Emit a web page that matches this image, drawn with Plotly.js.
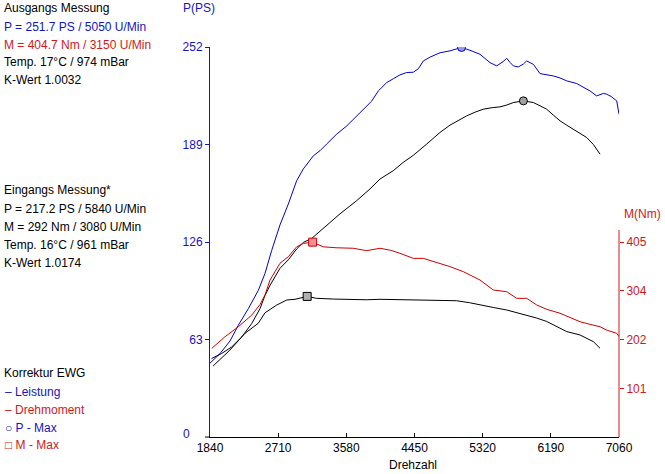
<!DOCTYPE html>
<html>
<head>
<meta charset="utf-8">
<script src="https://cdn.plot.ly/plotly-3.0.1.min.js"></script>
<style>
  html, body { margin: 0; padding: 0; background: #fff; }
  #chart { width: 665px; height: 474px; }
</style>
</head>
<body>
<div id="chart"></div>
<script>
// Ausgangs Messung, Leistung (blau)
var rpmP1 = [1840, 1968, 2095, 2201, 2329, 2456, 2542, 2627, 2733, 2840, 2946, 3031, 3159, 3244, 3329, 3457, 3585, 3691, 3797, 3903, 3988, 4095, 4180, 4265, 4350, 4435, 4500, 4563, 4650, 4776, 4903, 5050, 5158, 5286, 5414, 5499, 5580, 5627, 5670, 5712, 5775, 5840, 5882, 5967, 6052, 6137, 6222, 6307, 6393, 6520, 6605, 6690, 6775, 6860, 6903, 6960, 7031, 7060];
var valP1 = [47.7, 53.9, 62, 72.2, 82.9, 94.7, 105.7, 120.5, 137, 150.6, 165.6, 173.2, 181.7, 185, 189.3, 195.7, 201, 206.4, 211.5, 217, 223.6, 229, 231.5, 234, 235.5, 235.7, 238, 243, 245.5, 248.3, 249.5, 251.7, 249.9, 247.3, 241.9, 239.8, 242.5, 244.7, 242, 239.8, 239.1, 241, 243, 240.8, 234.8, 234, 233.3, 232, 230.1, 228.4, 226, 223.6, 220.4, 222, 221.5, 220, 217.2, 208.6];

// Eingangs Messung, Leistung (schwarz)
var rpmP2 = [1860, 1990, 2117, 2245, 2372, 2478, 2542, 2606, 2733, 2840, 2946, 3031, 3138, 3329, 3499, 3712, 3882, 4010, 4180, 4307, 4435, 4606, 4776, 4903, 5009, 5116, 5228, 5328, 5441, 5541, 5627, 5712, 5840, 5967, 6052, 6137, 6222, 6307, 6392, 6477, 6562, 6648, 6733, 6818];
var valP2 = [50.7, 54, 58.2, 64.6, 73.3, 82.9, 91.5, 98, 109, 114.5, 121.5, 125.7, 128.3, 136.6, 144.2, 152.7, 160.3, 166.7, 172.1, 177.5, 182, 189.3, 196.8, 201.5, 204.5, 207.5, 210, 211.8, 212.8, 213.3, 214.5, 216.1, 217.2, 216.1, 214, 211.8, 208, 204.3, 201.5, 198.9, 196, 193.5, 189, 182.8];

// Ausgangs Messung, Drehmoment (rot)
var rpmM1 = [1862, 2030, 2201, 2372, 2478, 2542, 2606, 2733, 2840, 2946, 3031, 3150, 3286, 3450, 3669, 3840, 4010, 4140, 4265, 4435, 4563, 4776, 4900, 5073, 5286, 5456, 5627, 5754, 5882, 6010, 6137, 6307, 6430, 6562, 6690, 6818, 6903, 7031, 7060];
var valM1 = [184, 208, 229, 253, 275, 295, 326, 360.8, 374.5, 395, 402, 404.7, 395, 393, 392, 387, 392, 388, 381.5, 371, 371, 360.8, 354, 343.4, 326, 305.3, 301.8, 288, 288, 274.2, 265.2, 257, 248, 239.5, 234, 229, 222, 215.4, 208.3];

// Eingangs Messung, Drehmoment (schwarz)
var rpmM2 = [1880, 2095, 2287, 2456, 2542, 2691, 2819, 2925, 3080, 3200, 3414, 3600, 3840, 4010, 4265, 4500, 4691, 4988, 5150, 5328, 5456, 5627, 5754, 5882, 6010, 6137, 6222, 6307, 6392, 6562, 6733, 6818];
var valM2 = [147.5, 180.7, 215.4, 236.2, 258, 274, 284.5, 286, 292, 288, 286.5, 285.5, 285, 286, 285, 285, 284.5, 283, 279, 274, 269, 263.8, 258.5, 253.4, 247, 240, 233, 226, 219, 211.9, 198, 184.2];

// Maxima
var pMaxRpm = [5050, 5840];
var pMaxVal = [251.7, 217.2];
var mMaxRpm = [3150, 3080];
var mMaxVal = [404.7, 292];

var xTicks = [1840, 2710, 3580, 4450, 5320, 6190, 7060];
var pTicks = [63, 126, 189, 252];
var mTicks = [101, 202, 304, 405];

var BLUE = '#1414c0';
var RED = '#d01818';
var FONT = 'Liberation Sans, Arial, sans-serif';

// Pixelposition -> paper-Koordinaten (Plotbereich 210..619 x 47..437)
function px(x) { return (x - 210) / 409; }
function py(y) { return (437 - y) / 390; }

var data = [
  {x: rpmP1, y: valP1, type: 'scatter', mode: 'lines', line: {color: '#0000cc', width: 1}, hoverinfo: 'skip'},
  {x: rpmP2, y: valP2, type: 'scatter', mode: 'lines', line: {color: '#000', width: 1}, hoverinfo: 'skip'},
  {x: rpmM1, y: valM1, yaxis: 'y2', type: 'scatter', mode: 'lines', line: {color: '#cc0000', width: 1}, hoverinfo: 'skip'},
  {x: rpmM2, y: valM2, yaxis: 'y2', type: 'scatter', mode: 'lines', line: {color: '#000', width: 1}, hoverinfo: 'skip'},
  {x: pMaxRpm, y: pMaxVal, type: 'scatter', mode: 'markers',
   marker: {symbol: 'circle', size: 8, color: ['#9a9ae0', '#a0a0a0'], line: {color: ['#0000cc', '#000'], width: 1}}},
  {x: mMaxRpm, y: mMaxVal, yaxis: 'y2', type: 'scatter', mode: 'markers',
   marker: {symbol: 'square', size: 8, color: ['#f09090', '#b0b0b0'], line: {color: ['#cc0000', '#000'], width: 1}}}
];

function label(x, y, text, color) {
  return {xref: 'paper', yref: 'paper', x: px(x), y: py(y), text: text, showarrow: false,
          xanchor: 'left', yanchor: 'middle', font: {family: FONT, size: 12, color: color || '#000'}};
}

var annotations = [
  label(2, 8, 'Ausgangs Messung'),
  label(2, 27, 'P = 251.7 PS / 5050 U/Min', BLUE),
  label(2, 45, 'M = 404.7 Nm / 3150 U/Min', RED),
  label(2, 62, 'Temp. 17°C / 974 mBar'),
  label(2, 80, 'K-Wert 1.0032'),
  label(2, 190, 'Eingangs Messung*'),
  label(2, 209, 'P = 217.2 PS / 5840 U/Min'),
  label(2, 227, 'M = 292 Nm / 3080 U/Min'),
  label(2, 245, 'Temp. 16°C / 961 mBar'),
  label(2, 263, 'K-Wert 1.0174'),
  label(2, 373, 'Korrektur EWG'),
  label(3, 392, '– Leistung', BLUE),
  label(3, 410, '– Drehmoment', RED),
  label(3, 428, '○ P - Max', BLUE),
  label(3, 445, '□ M - Max', RED),
  label(181, 8, 'P(PS)', BLUE),
  label(622, 214, 'M(Nm)', RED),
  label(181, 434, '0', BLUE),
  {xref: 'paper', yref: 'paper', x: px(413), y: py(465), text: 'Drehzahl', showarrow: false,
   xanchor: 'center', yanchor: 'middle', font: {family: FONT, size: 12, color: '#000'}}
];

var layout = {
  width: 665,
  height: 474,
  margin: {l: 210, r: 46, t: 47, b: 37, pad: 0},
  paper_bgcolor: '#fff',
  plot_bgcolor: '#fff',
  showlegend: false,
  font: {family: FONT, size: 12, color: '#000'},
  xaxis: {
    range: [1840, 7060], tickvals: xTicks, ticktext: xTicks.map(String),
    ticks: 'inside', ticklen: 4, tickcolor: '#000', showline: true, linecolor: '#000', linewidth: 1,
    showgrid: false, zeroline: false, tickfont: {family: FONT, size: 12, color: '#000'}
  },
  yaxis: {
    range: [0, 252], tickvals: pTicks, ticktext: pTicks.map(String),
    ticks: 'outside', ticklen: 4, tickcolor: BLUE, showline: true, linecolor: BLUE, linewidth: 1,
    showgrid: false, zeroline: false, tickfont: {family: FONT, size: 12, color: BLUE}
  },
  yaxis2: {
    overlaying: 'y', side: 'right', range: [0, 810], tickvals: mTicks, ticktext: mTicks.map(String),
    ticks: 'outside', ticklen: 4, tickcolor: RED, showline: false,
    showgrid: false, zeroline: false, tickfont: {family: FONT, size: 12, color: RED}
  },
  shapes: [
    {type: 'line', xref: 'paper', yref: 'y2', x0: 1, x1: 1, y0: 0, y1: 430, line: {color: RED, width: 1}},
    {type: 'line', xref: 'paper', yref: 'paper', x0: px(205), x1: 0, y0: 0, y1: 0, line: {color: '#000', width: 1}}
  ],
  annotations: annotations
};

Plotly.newPlot('chart', data, layout, {staticPlot: true, displayModeBar: false});
</script>
</body>
</html>
